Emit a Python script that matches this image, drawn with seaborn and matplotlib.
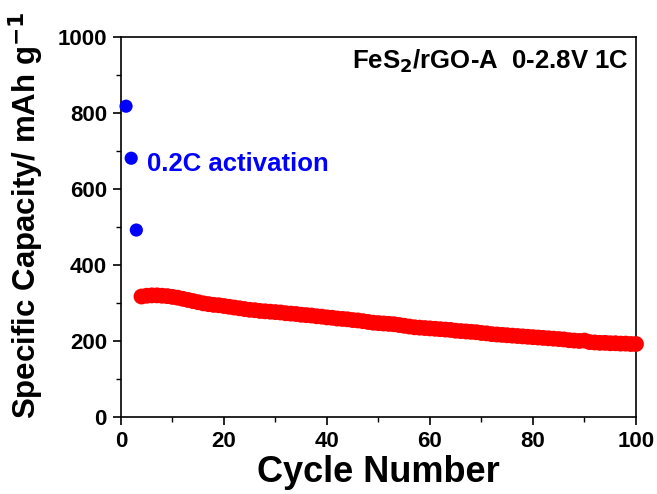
import matplotlib
matplotlib.use("Agg")
import matplotlib.pyplot as plt
import seaborn as sns
import pandas as pd
from matplotlib.ticker import MultipleLocator

# Activation cycles at 0.2C
act_cycles = [1, 2, 3]
act_capacity = [818, 681, 492]

# Long-term cycling at 1C
cyc_cycles = list(range(4, 101))
cyc_capacity = [
    317, 319, 320, 320, 319, 318, 316, 314, 311, 308,
    305, 302, 299, 297, 295, 294, 292, 290, 288, 286,
    284, 282, 281, 279, 278, 277, 276, 275, 273, 272,
    271, 269, 268, 267, 265, 264, 262, 261, 259, 258,
    257, 255, 254, 252, 250, 248, 247, 246, 245, 244,
    242, 240, 238, 236, 235, 234, 233, 232, 231, 230,
    229, 227, 226, 225, 224, 223, 221, 220, 218, 217,
    216, 215, 214, 213, 212, 211, 210, 209, 208, 207,
    206, 205, 204, 202, 201, 200, 201, 197, 196, 195,
    195, 194, 194, 193, 193, 192, 192,
]

x_ticks = [0, 20, 40, 60, 80, 100]
y_ticks = [0, 200, 400, 600, 800, 1000]

sns.set_style("white")
plt.rcParams["font.family"] = ["Liberation Sans", "DejaVu Sans"]
plt.rcParams["font.weight"] = "bold"
plt.rcParams["mathtext.default"] = "bf"

fig = plt.figure(figsize=(6.57, 4.94), dpi=100)
ax = fig.add_axes([0.184, 0.156, 0.784, 0.769])

df_act = pd.DataFrame({"cycle": act_cycles, "capacity": act_capacity})
df_cyc = pd.DataFrame({"cycle": cyc_cycles, "capacity": cyc_capacity})

sns.scatterplot(data=df_cyc, x="cycle", y="capacity", ax=ax, color="#ff0000",
                s=130, linewidth=0, edgecolor="none", zorder=3, clip_on=False)
sns.scatterplot(data=df_act, x="cycle", y="capacity", ax=ax, color="#0000ff",
                s=90, linewidth=0, edgecolor="none", zorder=3, clip_on=False)

ax.set_xlim(0, 100)
ax.set_ylim(0, 1000)
ax.set_xticks(x_ticks)
ax.set_yticks(y_ticks)
ax.xaxis.set_minor_locator(MultipleLocator(10))
ax.yaxis.set_minor_locator(MultipleLocator(100))
ax.tick_params(axis="both", which="major", direction="out", length=6, width=1.2,
               labelsize=16, colors="black", bottom=True, left=True, top=False, right=False,
               pad=4)
ax.tick_params(axis="both", which="minor", direction="out", length=3.5, width=1.0,
               colors="black", bottom=True, left=True, top=False, right=False)
for lbl in ax.get_xticklabels() + ax.get_yticklabels():
    lbl.set_fontweight("bold")

for sp in ax.spines.values():
    sp.set_color("black")
    sp.set_linewidth(1.2)

ax.set_xlabel("Cycle Number", fontsize=26, fontweight="bold", color="black", labelpad=2)
ax.set_ylabel("Specific Capacity/ mAh g$^{-1}$", fontsize=22.5, fontweight="bold",
              color="black")
ax.yaxis.set_label_coords(-0.146, 0.53)

ax.text(0.985, 0.935, "FeS$_2$/rGO-A  0-2.8V 1C", transform=ax.transAxes,
        ha="right", va="center", fontsize=18.5, fontweight="bold", color="black")
ax.text(5.1, 665, "0.2C activation", ha="left", va="center", fontsize=18.5,
        fontweight="bold", color="#0000ff")

fig.savefig("out.png", dpi=100)
